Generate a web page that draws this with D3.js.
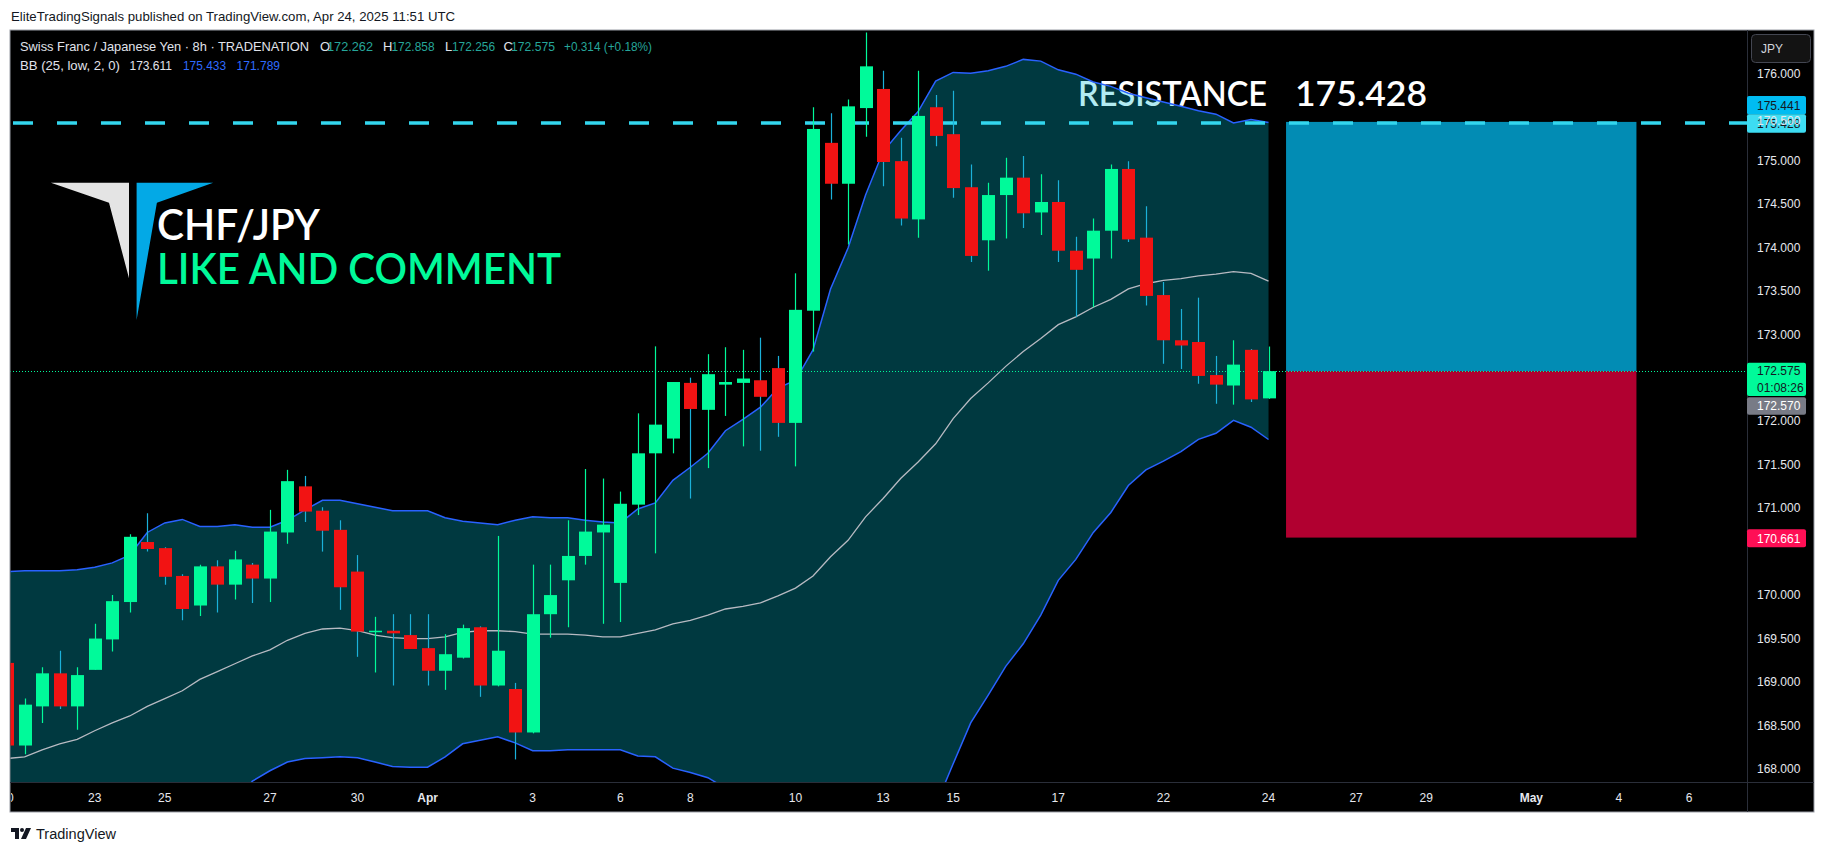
<!DOCTYPE html>
<html><head><meta charset="utf-8">
<script src="https://cdn.jsdelivr.net/npm/d3@7/dist/d3.min.js"></script>
<style>body{margin:0;background:#fff;overflow:hidden}svg{display:block}</style>
</head><body>
<svg id="c" width="1826" height="852"></svg>
<script>
// ---------- DATA ----------
const open  = [169.22,168.27,168.72,169.10,168.72,169.14,169.49,169.92,170.61,170.54,170.22,169.88,170.33,170.12,170.35,170.19,170.72,171.25,170.97,170.75,170.27,169.58,169.59,169.54,169.39,169.13,169.28,169.63,168.96,168.92,168.42,169.78,170.17,170.45,170.72,170.14,171.04,171.63,171.80,172.44,172.13,172.42,172.44,172.47,172.61,171.98,173.27,175.20,174.73,175.60,175.82,174.99,174.32,175.61,175.30,174.69,174.08,174.60,174.80,174.40,174.52,173.96,173.87,174.19,174.90,174.11,173.45,172.93,172.91,172.53,172.41,172.82,172.262];
const high  = [169.25,168.81,169.17,169.36,169.17,169.67,170.00,170.70,170.94,170.55,170.24,170.35,170.40,170.51,170.37,170.98,171.44,171.37,171.01,170.86,170.46,169.75,169.78,169.78,169.78,169.55,169.66,169.64,170.68,168.99,170.35,170.35,170.86,171.45,171.34,171.19,172.09,172.86,172.45,172.50,172.77,172.85,172.82,172.96,172.75,173.70,175.61,175.54,175.70,176.47,176.03,175.26,176.03,175.75,175.80,174.95,174.74,175.03,175.05,174.84,174.77,174.12,174.33,174.95,174.99,174.47,173.60,173.29,173.42,172.75,172.93,172.83,172.858];
const low   = [168.22,168.17,168.53,168.69,168.45,169.14,169.35,169.80,170.50,170.12,169.71,169.76,169.80,169.95,169.91,169.92,170.59,170.84,170.50,169.83,169.29,169.11,168.96,169.38,168.96,168.91,169.27,168.83,168.95,168.11,168.41,169.51,169.63,170.35,169.67,169.69,170.92,170.48,171.63,171.11,171.46,172.06,171.71,171.66,171.82,171.48,172.80,174.55,174.03,175.27,174.70,174.25,174.11,175.16,174.57,173.83,173.73,174.10,174.22,174.14,173.83,173.20,173.31,173.87,174.06,173.33,172.66,172.60,172.43,172.20,172.19,172.22,172.256];
const close = [168.27,168.74,169.10,168.72,169.08,169.50,169.93,170.67,170.53,170.21,169.84,170.33,170.12,170.41,170.19,170.73,171.31,170.96,170.74,170.09,169.58,169.59,169.56,169.38,169.13,169.32,169.62,168.96,169.36,168.42,169.78,170.00,170.45,170.73,170.81,171.05,171.63,171.96,172.45,172.14,172.54,172.45,172.49,172.28,171.98,173.28,175.36,174.73,175.62,176.08,174.98,174.33,175.51,175.28,174.68,173.90,174.60,174.80,174.39,174.52,173.96,173.74,174.19,174.90,174.09,173.44,172.93,172.87,172.52,172.42,172.65,172.25,172.575];
const bbUpper = [170.27,170.28,170.28,170.28,170.29,170.32,170.37,170.46,170.72,170.83,170.87,170.79,170.79,170.81,170.78,170.78,170.86,170.98,171.09,171.09,171.05,171.01,170.97,170.97,170.97,170.89,170.85,170.83,170.81,170.86,170.90,170.89,170.89,170.86,170.84,170.83,170.99,171.06,171.32,171.47,171.63,171.89,172.02,172.16,172.38,172.47,172.82,173.52,173.99,174.60,175.10,175.34,175.56,175.91,176.01,176.00,176.03,176.08,176.16,176.14,176.04,175.99,175.90,175.85,175.77,175.72,175.67,175.62,175.57,175.53,175.43,175.47,175.433];
const bbBasis = [168.12,168.14,168.22,168.29,168.34,168.44,168.53,168.61,168.72,168.81,168.90,169.03,169.12,169.21,169.30,169.37,169.48,169.56,169.61,169.62,169.59,169.54,169.51,169.50,169.50,169.52,169.57,169.59,169.59,169.58,169.55,169.55,169.55,169.54,169.52,169.52,169.56,169.60,169.67,169.71,169.77,169.84,169.87,169.91,169.99,170.08,170.22,170.44,170.63,170.90,171.11,171.34,171.53,171.74,172.03,172.26,172.44,172.63,172.80,172.95,173.11,173.20,173.31,173.40,173.52,173.58,173.62,173.64,173.67,173.69,173.72,173.70,173.611];
const bbLower = [165.96,166.00,166.16,166.29,166.39,166.56,166.68,166.77,166.72,166.79,166.92,167.27,167.46,167.61,167.86,167.98,168.08,168.12,168.13,168.14,168.13,168.08,168.03,168.02,168.02,168.14,168.29,168.33,168.37,168.30,168.21,168.21,168.22,168.22,168.22,168.22,168.15,168.14,168.01,167.96,167.90,167.78,167.71,167.66,167.60,167.68,167.62,167.36,167.28,167.20,167.12,167.33,167.51,167.58,168.06,168.53,168.85,169.18,169.44,169.77,170.17,170.41,170.72,170.95,171.26,171.44,171.54,171.65,171.79,171.86,172.01,171.93,171.789];
const timeTickBars   = [0,5,9,15,20,24,30,35,39,45,50,54,60,66,72,77,81,87,92,96];
const timeTickLabels = ["20","23","25","27","30","Apr","3","6","8","10","13","15","17","22","24","27","29","May","4","6"];
const priceTicks = [168,168.5,169,169.5,170,170.5,171,171.5,172,172.5,173,173.5,174,174.5,175,175.5,176];
const resistance = 175.428;
const posTarget = 175.441, posEntry = 172.575, posStop = 170.661, posStartBar = 73, posEndBar = 93;
const lastPrice = 172.575, prevClose = 172.570, countdown = "01:08:26";
const change = "+0.314 (+0.18%)";

// ---------- LAYOUT ----------
const svg = d3.select('#c');
const P = {x:10, y:30, r:1747, b:782, outerR:1814, outerB:812};
const x = d3.scaleLinear().domain([0,96]).range([7.1,1689]);
const y = d3.scaleLinear().domain([168,176]).range([769,73.3]);
const UP = '#00fa9a', DN = '#f21313', DNWICK = '#1bb1d9';
const FONT = "'Liberation Sans', Arial, sans-serif";

svg.append('rect').attr('width',1826).attr('height',852).attr('fill','#fff');
svg.append('text').attr('x',11).attr('y',21).attr('font-family',FONT).attr('font-size',13)
  .attr('fill','#131722').attr('textLength',444).attr('lengthAdjust','spacingAndGlyphs')
  .text('EliteTradingSignals published on TradingView.com, Apr 24, 2025 11:51 UTC');

svg.append('rect').attr('x',P.x).attr('y',P.y).attr('width',P.outerR-P.x).attr('height',P.outerB-P.y)
  .attr('fill','#000').attr('stroke','#9a9da6').attr('stroke-width',1);

const defs = svg.append('defs');
defs.append('clipPath').attr('id','plotclip').append('rect')
  .attr('x',P.x+0.5).attr('y',P.y+0.5).attr('width',P.r-P.x-0.5).attr('height',P.b-P.y-0.5);
const g = svg.append('g').attr('clip-path','url(#plotclip)');

// logo
g.append('polygon').attr('points','50.9,182.7 129,182.7 129,278.3 109,202.7').attr('fill','#e4e4e4');
g.append('polygon').attr('points','136.6,182.7 213.2,182.7 156.9,202.7 136.6,320').attr('fill','#03a9e6');
g.append('text').attr('x',157).attr('y',240).attr('font-family','Lato, sans-serif').attr('font-weight',600)
  .attr('font-size',42).attr('fill','#fff').attr('textLength',163).attr('lengthAdjust','spacingAndGlyphs').text('CHF/JPY');
g.append('text').attr('x',157).attr('y',284).attr('font-family','Lato, sans-serif').attr('font-weight',600)
  .attr('font-size',42).attr('fill','#00fa9a').attr('textLength',404).attr('lengthAdjust','spacingAndGlyphs').text('LIKE AND COMMENT');

// resistance text (under BB fill)
g.append('text').attr('x',1078).attr('y',106).attr('font-family','Lato, sans-serif').attr('font-weight',600)
  .attr('font-size',35).attr('fill','#fff').attr('textLength',189).attr('lengthAdjust','spacingAndGlyphs').text('RESISTANCE');
g.append('text').attr('x',1295).attr('y',106).attr('font-family','Lato, sans-serif').attr('font-weight',600)
  .attr('font-size',35).attr('fill','#fff').attr('textLength',132).attr('lengthAdjust','spacingAndGlyphs').text(resistance.toFixed(3));

// BB
const idx = d3.range(bbUpper.length);
g.append('path').datum(idx).attr('fill','rgba(0,188,212,0.3)')
  .attr('d', d3.area().x(i=>x(i)).y0(i=>y(bbLower[i])).y1(i=>y(bbUpper[i])));
const ln = arr => d3.line().x(i=>x(i)).y(i=>y(arr[i]));
g.append('path').datum(idx).attr('fill','none').attr('stroke','#b7bac2').attr('stroke-width',1.3).attr('d',ln(bbBasis));
g.append('path').datum(idx).attr('fill','none').attr('stroke','#2962ff').attr('stroke-width',1.5).attr('d',ln(bbUpper));
g.append('path').datum(idx).attr('fill','none').attr('stroke','#2962ff').attr('stroke-width',1.5).attr('d',ln(bbLower));

// long position boxes
g.append('rect').attr('x',x(posStartBar)).attr('width',x(posEndBar)-x(posStartBar))
  .attr('y',y(posTarget)).attr('height',y(posEntry)-y(posTarget)).attr('fill','#028cb4');
g.append('rect').attr('x',x(posStartBar)).attr('width',x(posEndBar)-x(posStartBar))
  .attr('y',y(posEntry)).attr('height',y(posStop)-y(posEntry)).attr('fill','#b10030');

// resistance dashed line
g.append('line').attr('x1',P.x).attr('x2',P.r).attr('y1',y(resistance)).attr('y2',y(resistance))
  .attr('stroke','#33d6ee').attr('stroke-width',3.5).attr('stroke-dasharray','20,24').attr('stroke-dashoffset',41);

// current price dotted line
g.append('line').attr('x1',P.x).attr('x2',P.r).attr('y1',Math.round(y(lastPrice))+0.5).attr('y2',Math.round(y(lastPrice))+0.5)
  .attr('stroke',UP).attr('stroke-width',1).attr('stroke-dasharray','1,2');

// candles
const candles = open.map((o,i)=>({i,o,h:high[i],l:low[i],c:close[i]}));
g.selectAll('line.wick').data(candles).join('line').attr('class','wick')
  .attr('x1',d=>Math.round(x(d.i))+0.5).attr('x2',d=>Math.round(x(d.i))+0.5)
  .attr('y1',d=>y(d.h)).attr('y2',d=>y(d.l))
  .attr('stroke',d=>d.c>=d.o?UP:DNWICK).attr('stroke-width',1.2);
g.selectAll('rect.body').data(candles).join('rect').attr('class','body')
  .attr('x',d=>Math.round(x(d.i))-6).attr('width',13)
  .attr('y',d=>y(Math.max(d.o,d.c))).attr('height',d=>Math.max(1.5,Math.abs(y(d.o)-y(d.c))))
  .attr('fill',d=>d.c>=d.o?UP:DN);

// legend
const L = close.length-1;
const seg1 = [
  {t:'Swiss Franc / Japanese Yen · 8h · TRADENATION', x:20, w:289, c:'#e0e3eb'},
  {t:'O', x:320, c:'#e0e3eb'}, {t:open[L].toFixed(3), x:327, w:46, c:'#26a69a'},
  {t:'H', x:383, c:'#e0e3eb'}, {t:high[L].toFixed(3), x:391.5, w:43, c:'#26a69a'},
  {t:'L', x:445, c:'#e0e3eb'}, {t:low[L].toFixed(3), x:452, w:43, c:'#26a69a'},
  {t:'C', x:503.6, c:'#e0e3eb'}, {t:close[L].toFixed(3), x:511, w:44, c:'#26a69a'},
  {t:change, x:564, w:88, c:'#26a69a'}];
const seg2 = [
  {t:'BB (25, low, 2, 0)', x:20, w:100, c:'#e0e3eb'},
  {t:bbBasis[L].toFixed(3), x:129.5, w:42.5, c:'#e0e3eb'},
  {t:bbUpper[L].toFixed(3), x:183, w:43, c:'#2f6bff'},
  {t:bbLower[L].toFixed(3), x:236.6, w:43.4, c:'#2f6bff'}];
[[seg1,51],[seg2,70]].forEach(([segs,by])=>{
  segs.forEach(s=>{
    const t = svg.append('text').attr('x',s.x).attr('y',by).attr('font-family',FONT).attr('font-size',13)
      .attr('fill',s.c).text(s.t);
    if (s.w) t.attr('textLength',s.w).attr('lengthAdjust','spacingAndGlyphs');
  });
});

// separators
svg.append('line').attr('x1',P.r+0.5).attr('x2',P.r+0.5).attr('y1',P.y).attr('y2',P.outerB).attr('stroke','#2a2e39');
svg.append('line').attr('x1',P.x).attr('x2',P.outerR).attr('y1',P.b+0.5).attr('y2',P.b+0.5).attr('stroke','#2a2e39');

// price axis tags (boxes hide the ticks underneath them)
const tags = [
  {y0:y(posTarget)-26, h:18.6, fill:'#00bcf2', lines:[posTarget.toFixed(3)], tc:'#131722'},
  {y0:y(resistance)-8.7, h:18.4, fill:'#3ddcf2', lines:[resistance.toFixed(3)], tc:'#131722'},
  {y0:y(lastPrice)-8.5, h:33.3, fill:'#00fa9a', lines:[lastPrice.toFixed(3),countdown], tc:'#131722'},
  {y0:y(lastPrice)+26, h:17.7, fill:'#787b86', lines:[prevClose.toFixed(3)], tc:'#fff'},
  {y0:y(posStop)-8.3, h:18, fill:'#ff0f55', lines:[posStop.toFixed(3)], tc:'#fff'}];
const visibleTicks = priceTicks.filter(p => !tags.some(t => y(p) > t.y0 - 5 && y(p) < t.y0 + t.h + 5));
svg.append('g').selectAll('text').data(visibleTicks).join('text')
  .attr('x',1757).attr('y',d=>y(d)).attr('dy','0.36em').attr('font-family',FONT).attr('font-size',12)
  .attr('fill','#e6e8ee').text(d=>d.toFixed(3));
tags.forEach(t=>{
  svg.append('rect').attr('x',P.r).attr('y',t.y0).attr('width',59).attr('height',t.h).attr('rx',2).attr('fill',t.fill);
  t.lines.forEach((s,k)=>svg.append('text').attr('x',1757).attr('y',t.y0+(k+0.5)*t.h/t.lines.length).attr('dy','0.36em')
    .attr('font-family',FONT).attr('font-size',12).attr('fill',t.tc).text(s));
});
// ticks just below the lower tags, drawn clear of them
priceTicks.filter(p => !visibleTicks.includes(p) && !tags.some(t => y(p) > t.y0 && y(p) < t.y0 + t.h))
  .forEach(p => {
    const t = tags.find(t => y(p) >= t.y0 + t.h);
    svg.append('text').attr('x',1757).attr('y',t.y0+t.h+1).attr('dy','0.8em').attr('font-family',FONT)
      .attr('font-size',12).attr('fill','#e6e8ee').text(p.toFixed(3));
  });

// JPY button
svg.append('rect').attr('x',1751.5).attr('y',34.5).attr('width',59).attr('height',28).attr('rx',4)
  .attr('fill','#131313').attr('stroke','#434651');
svg.append('text').attr('x',1761).attr('y',48.5).attr('dy','0.36em').attr('font-family',FONT).attr('font-size',12)
  .attr('fill','#d1d4dc').text('JPY');

// time axis
defs.append('clipPath').attr('id','tclip').append('rect').attr('x',P.x+1).attr('y',P.b).attr('width',P.r-P.x).attr('height',30);
svg.append('g').attr('clip-path','url(#tclip)').selectAll('text').data(timeTickBars).join('text')
  .attr('x',d=>x(d)).attr('y',798).attr('dy','0.36em').attr('text-anchor','middle')
  .attr('font-family',FONT).attr('font-size',12)
  .attr('font-weight',(d,i)=>/[A-Za-z]/.test(timeTickLabels[i])?'bold':'normal')
  .attr('fill','#e6e8ee').text((d,i)=>timeTickLabels[i]);

// footer logo
const f = svg.append('g').attr('transform','translate(11,828)');
f.append('path').attr('d','M0 0 H8 V11 H4 V4 H0 Z').attr('fill','#131722');
f.append('circle').attr('cx',11).attr('cy',2).attr('r',2).attr('fill','#131722');
f.append('path').attr('d','M15 0 H20 L15 11 H10 Z').attr('fill','#131722');
svg.append('text').attr('x',36).attr('y',839).attr('font-family',FONT).attr('font-size',14)
  .attr('fill','#131722').attr('textLength',80).attr('lengthAdjust','spacingAndGlyphs').text('TradingView');
</script>
</body></html>
